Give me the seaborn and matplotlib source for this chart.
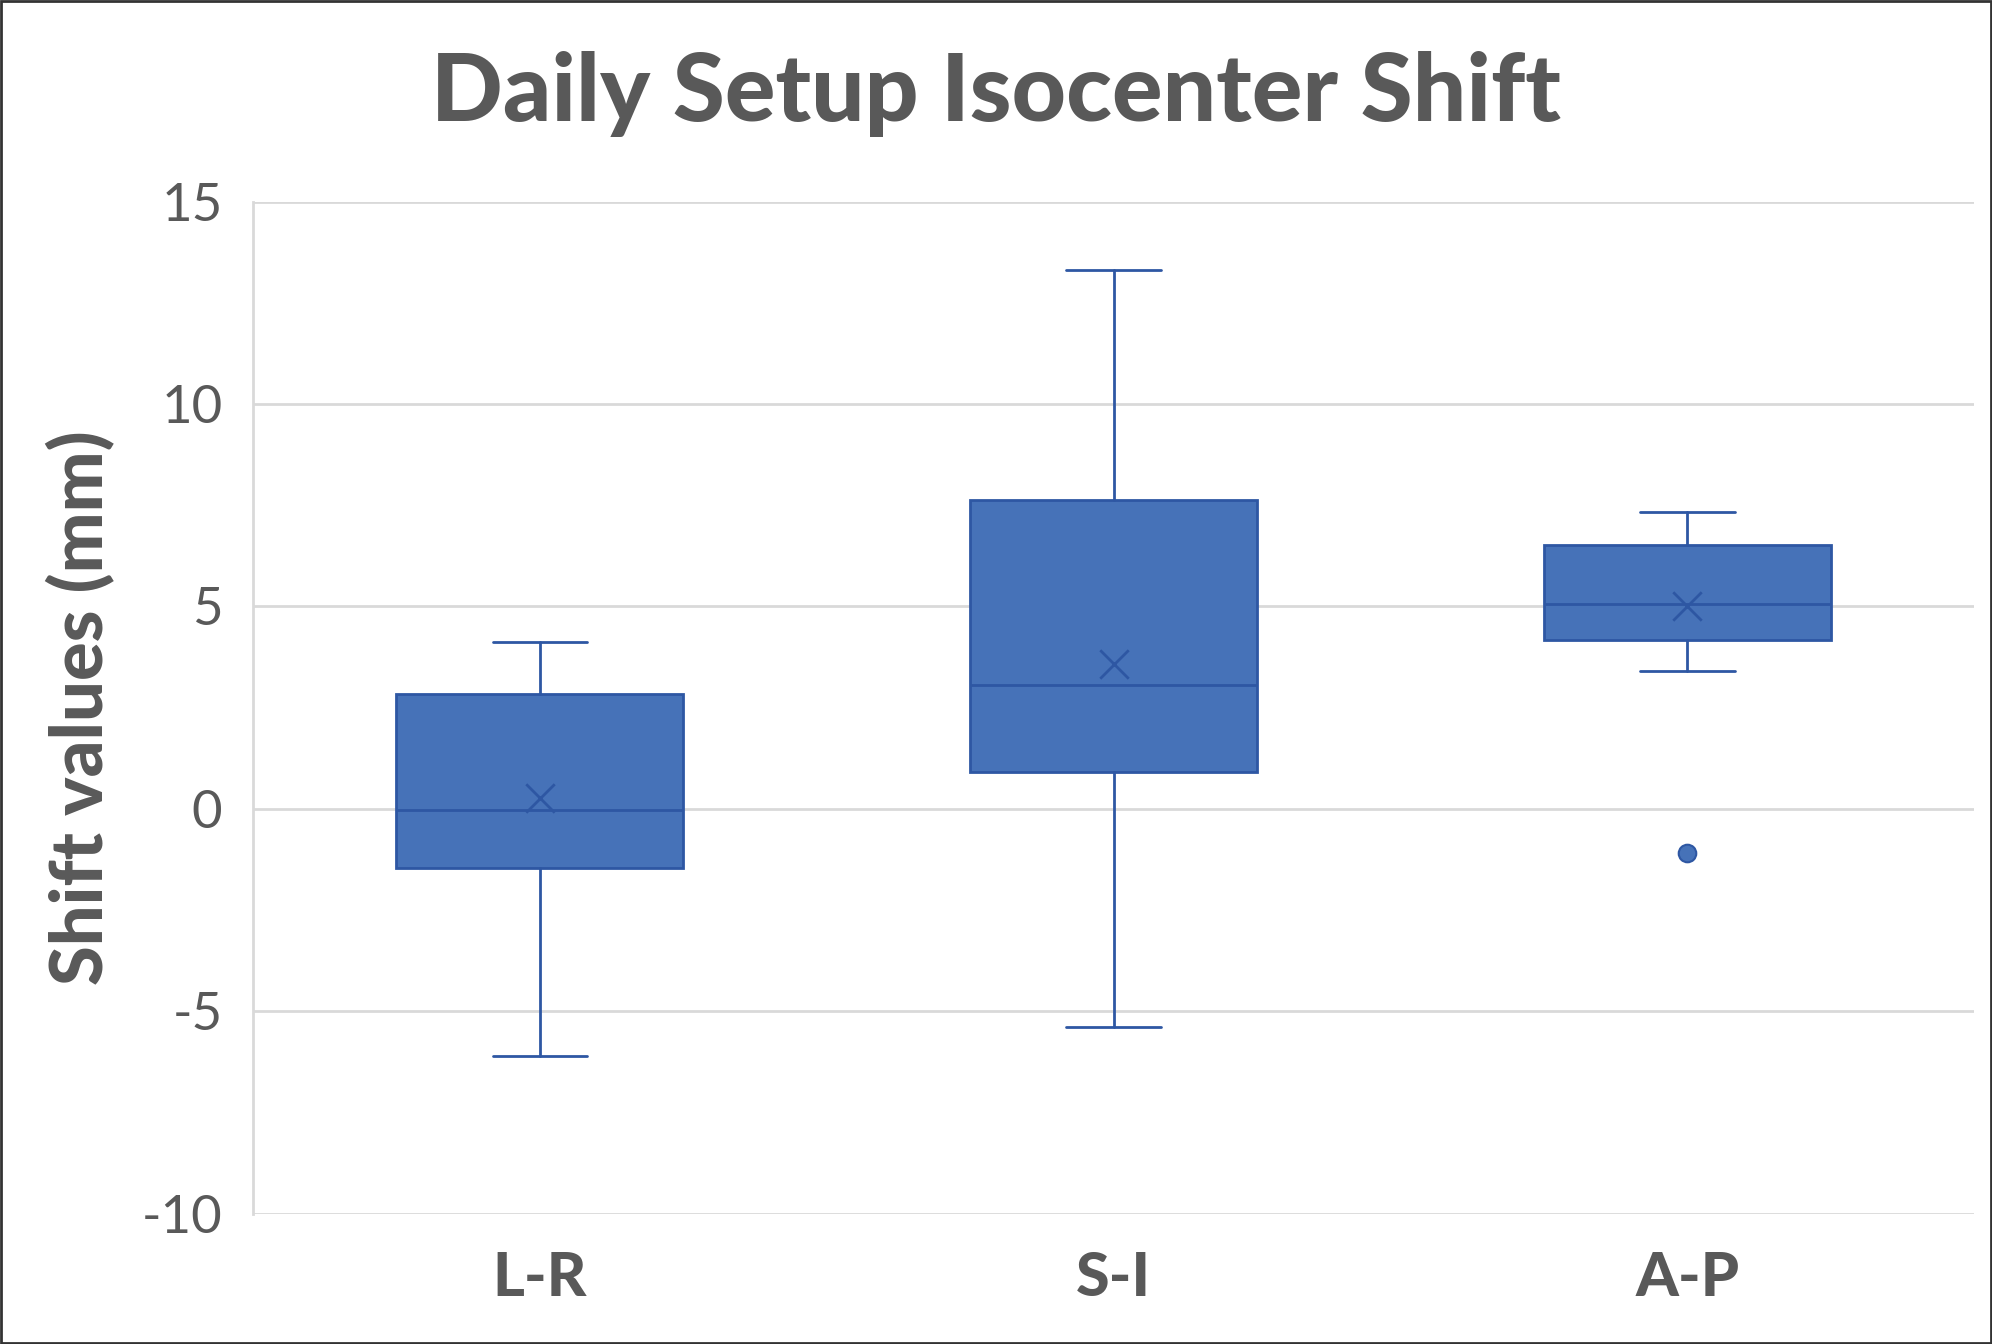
import matplotlib
matplotlib.use("Agg")
import matplotlib.pyplot as plt
import seaborn as sns
import pandas as pd

# box statistics (mm)
categories = ["L-R", "S-I", "A-P"]
whisker_low = [-6.1, -5.38, 3.41]
q1 = [-1.45, 0.92, 4.17]
median = [-0.02, 3.06, 5.05]
q3 = [2.83, 7.63, 6.52]
whisker_high = [4.11, 13.3, 7.32]
means = [0.27, 3.57, 5.02]
outliers = [[], [], [-1.09]]

fill = "#4672B8"
edge = "#2E57A3"
grey = "#595959"

sns.set_theme(style="whitegrid")
plt.rcParams["font.family"] = ["Lato", "DejaVu Sans"]

fig = plt.figure(figsize=(19.92, 13.44), dpi=100)
ax = fig.add_axes([0.127, 0.097, 0.864, 0.753])

stats = []
for i, cat in enumerate(categories):
    stats.append({
        "label": cat,
        "whislo": whisker_low[i],
        "q1": q1[i],
        "med": median[i],
        "q3": q3[i],
        "whishi": whisker_high[i],
        "mean": means[i],
        "fliers": outliers[i],
    })

ax.bxp(stats, positions=range(len(categories)), widths=0.5, patch_artist=True,
       showmeans=False, showfliers=False,
       boxprops=dict(facecolor=fill, edgecolor=edge, linewidth=2),
       medianprops=dict(color=edge, linewidth=2),
       whiskerprops=dict(color=edge, linewidth=2),
       capprops=dict(color=edge, linewidth=2),
       capwidths=0.165, zorder=3)

mean_df = pd.DataFrame({"cat": range(len(categories)), "mean": means})
sns.scatterplot(data=mean_df, x="cat", y="mean", marker="x", s=420,
                color=edge, linewidth=2, ax=ax, zorder=4)

out_x = [i for i, o in enumerate(outliers) for _ in o]
out_y = [v for o in outliers for v in o]
sns.scatterplot(x=out_x, y=out_y, marker="o", s=160, color=fill,
                edgecolor=edge, linewidth=1.5, ax=ax, zorder=4)

ax.set_xlim(-0.5, 2.5)
ax.set_ylim(-10, 15)
ax.set_yticks([-10, -5, 0, 5, 10, 15])
ax.set_yticklabels(["-10", "-5", "0", "5", "10", "15"])
ax.set_xticks(range(len(categories)))
ax.set_xticklabels(categories, fontsize=44, fontweight="black", color=grey)
ax.tick_params(axis="y", labelsize=38, labelcolor=grey, length=0, pad=22)
ax.tick_params(axis="x", length=0, pad=26)
ax.grid(axis="y", color="#D9D9D9", linewidth=2)
ax.grid(axis="x", visible=False)
ax.set_axisbelow(True)
for side in ["top", "right", "bottom"]:
    ax.spines[side].set_visible(False)
ax.spines["left"].set_visible(True)
ax.spines["left"].set_color("#D9D9D9")
ax.spines["left"].set_linewidth(2)
ax.set_xlabel("")
ax.set_ylabel("Shift values (mm)", fontsize=52, fontweight="black", color=grey, labelpad=18)

fig.suptitle("Daily Setup Isocenter Shift", fontsize=68, fontweight="black",
             color=grey, y=0.962)

# thin frame round the whole picture
fig.patches.append(plt.Rectangle((0.0005, 0.0005), 0.999, 0.999, transform=fig.transFigure,
                                 fill=False, edgecolor="#333333", linewidth=2))

fig.savefig("out.png", dpi=100)
